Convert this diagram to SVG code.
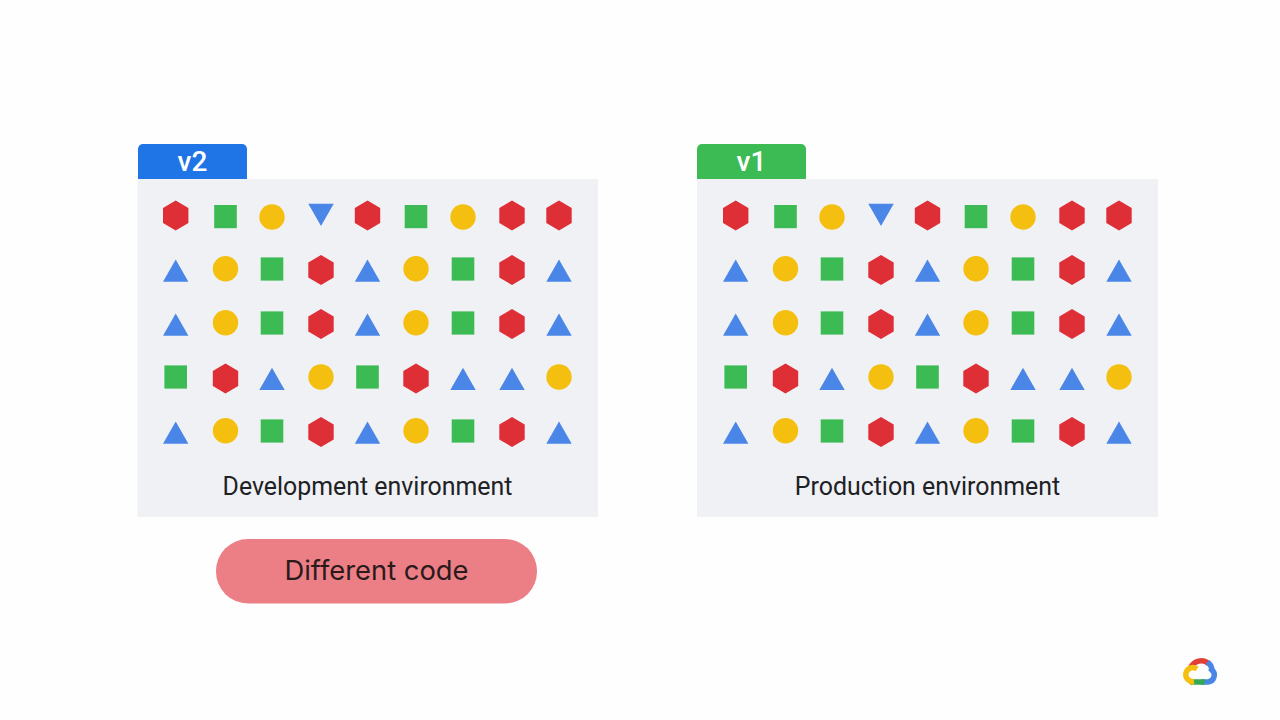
<svg xmlns="http://www.w3.org/2000/svg" width="1280" height="720" viewBox="0 0 1280 720">
<style>
.panel{fill:#f0f1f5}
.label{font-family:Roboto,"Liberation Sans",sans-serif;font-size:24.900px;fill:#202124;text-anchor:middle}
.tab{font-family:Roboto,"Liberation Sans",sans-serif;font-size:28px;font-weight:500;fill:#fff;text-anchor:middle}
.r{fill:#de2f37}.g{fill:#3cba54}.y{fill:#f5bf0f}.b{fill:#4a86e8}
</style>
<defs>
<polygon id="h" class="r" points="0,-15 12.7,-7.5 12.7,7.5 0,15 -12.7,7.5 -12.7,-7.5"/>
<rect id="s" class="g" x="-11.3" y="-11.6" width="22.6" height="23.2"/>
<circle id="c" class="y" r="12.7"/>
<polygon id="u" class="b" points="0,-11.2 12.7,11 -12.7,11"/>
<polygon id="d" class="b" points="-12.7,-11.2 12.7,-11.2 0,11"/>
<g id="grid">
<use href="#h" x="175.700" y="215.500"/><use href="#s" x="225.500" y="216.600"/><use href="#c" x="272" y="217"/><use href="#d" x="321" y="215"/><use href="#h" x="367.500" y="215.500"/><use href="#s" x="416" y="216.600"/><use href="#c" x="463" y="217"/><use href="#h" x="512" y="215.500"/><use href="#h" x="559" y="215.500"/>
<use href="#u" x="175.700" y="270.700"/><use href="#c" x="225.500" y="268.700"/><use href="#s" x="272" y="269"/><use href="#h" x="321" y="270"/><use href="#u" x="367.500" y="270.700"/><use href="#c" x="416" y="268.700"/><use href="#s" x="463" y="269"/><use href="#h" x="512" y="270"/><use href="#u" x="559" y="270.700"/>
<use href="#u" x="175.700" y="324.700"/><use href="#c" x="225.500" y="322.700"/><use href="#s" x="272" y="323"/><use href="#h" x="321" y="324"/><use href="#u" x="367.500" y="324.700"/><use href="#c" x="416" y="322.700"/><use href="#s" x="463" y="323"/><use href="#h" x="512" y="324"/><use href="#u" x="559" y="324.700"/>
<use href="#s" x="175.700" y="377"/><use href="#h" x="225.500" y="378.500"/><use href="#u" x="272" y="379"/><use href="#c" x="321" y="377"/><use href="#s" x="367.500" y="377"/><use href="#h" x="416" y="378.500"/><use href="#u" x="463" y="379"/><use href="#u" x="512" y="379"/><use href="#c" x="559" y="377"/>
<use href="#u" x="175.700" y="432.700"/><use href="#c" x="225.500" y="430.700"/><use href="#s" x="272" y="431"/><use href="#h" x="321" y="432"/><use href="#u" x="367.500" y="432.700"/><use href="#c" x="416" y="430.700"/><use href="#s" x="463" y="431"/><use href="#h" x="512" y="432"/><use href="#u" x="559" y="432.700"/>
</g>
</defs>
<rect width="1280" height="720" fill="#fefefe"/>
<g id="dev-environment">
<rect class="panel" x="137.500" y="179" width="460.500" height="338"/>
<path d="M138 179V149a5 5 0 0 1 5-5H242a5 5 0 0 1 5 5V179Z" fill="#1f74e6"/>
<text class="tab" x="192.500" y="171">v2</text>
<use href="#grid"/>
<text class="label" x="367.500" y="495">Development environment</text>
</g>
<g id="prod-environment">
<rect class="panel" x="697" y="179" width="461" height="338"/>
<path d="M697 179V149a5 5 0 0 1 5-5H801a5 5 0 0 1 5 5V179Z" fill="#3cba54"/>
<text class="tab" x="751.500" y="171">v1</text>
<use href="#grid" x="560"/>
<text class="label" x="927.500" y="495">Production environment</text>
</g>
<g id="different-code">
<rect x="216" y="539" width="321" height="64.500" rx="32" fill="#ec7f85"/>
<text x="376.500" y="580" font-family="Inter,Roboto,sans-serif" font-size="27" fill="#2a1a1c" text-anchor="middle" textLength="184" lengthAdjust="spacingAndGlyphs">Different code</text>
</g>
<g id="cloud-logo" fill="none" stroke-width="5.500">
<path d="M1190.500 668A11.500 11.500 0 0 1 1209 664" stroke="#e23f35"/>
<path d="M1207.500 662C1211 665 1212 668 1211.500 669.500A7 7 0 0 1 1208 682H1201" stroke="#4a86e8"/>
<path d="M1205 682H1190" stroke="#34a853"/>
<path d="M1194 681.500A7 7 0 1 1 1197 669" stroke="#f5bf0f"/>
</g>
</svg>
